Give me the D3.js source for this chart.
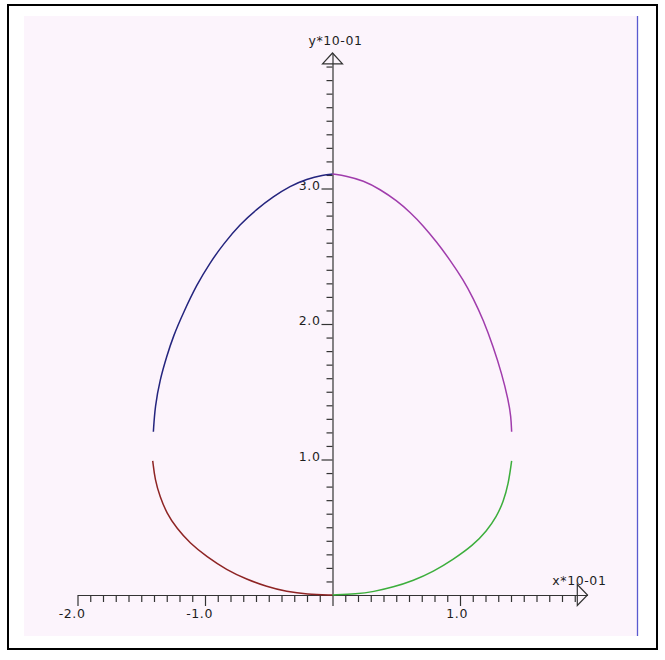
<!DOCTYPE html>
<html>
<head>
<meta charset="utf-8">
<script src="https://cdn.jsdelivr.net/npm/d3@7/dist/d3.min.js"></script>
<style>
  html, body { margin: 0; padding: 0; background: #ffffff; }
  svg { display: block; }
  text { font-family: "DejaVu Sans", sans-serif; font-size: 12.5px; letter-spacing: 0.6px; fill: #1e1e1e; }
</style>
</head>
<body>
<svg id="chart" width="665" height="660"></svg>
<script>
// Egg curve, drawn as four separate pieces (units of 10^-1)
const topLeft = [
  [-1.405, 1.205], [-1.392, 1.392], [-1.353, 1.590], [-1.300, 1.762], [-1.249, 1.910],
  [-1.170, 2.083], [-1.065, 2.290], [-0.961, 2.452], [-0.856, 2.590], [-0.725, 2.736],
  [-0.595, 2.847], [-0.464, 2.940], [-0.333, 3.018], [-0.202, 3.070], [-0.072, 3.100],
  [0.0, 3.107]
];
const topRight = [
  [0.0, 3.107], [0.111, 3.092], [0.242, 3.058], [0.373, 2.994], [0.504, 2.910],
  [0.608, 2.825], [0.712, 2.725], [0.817, 2.605], [0.922, 2.472], [1.026, 2.325],
  [1.104, 2.190], [1.183, 2.030], [1.261, 1.832], [1.327, 1.636], [1.379, 1.439],
  [1.400, 1.316], [1.405, 1.205]
];
const bottomLeft = [
  [-1.410, 0.990], [-1.392, 0.849], [-1.353, 0.725], [-1.300, 0.603], [-1.222, 0.492],
  [-1.118, 0.382], [-0.987, 0.283], [-0.830, 0.185], [-0.673, 0.116], [-0.516, 0.061],
  [-0.359, 0.024], [-0.202, 0.005], [0.0, 0.0]
];
const bottomRight = [
  [0.0, 0.0], [0.190, 0.007], [0.320, 0.024], [0.477, 0.058], [0.634, 0.106],
  [0.791, 0.172], [0.947, 0.262], [1.104, 0.368], [1.209, 0.472], [1.288, 0.580],
  [1.340, 0.690], [1.379, 0.815], [1.405, 0.990]
];

const pieces = [
  { name: "top-left", points: topLeft, color: "#24247e" },
  { name: "top-right", points: topRight, color: "#a03cac" },
  { name: "bottom-left", points: bottomLeft, color: "#8e2424" },
  { name: "bottom-right", points: bottomRight, color: "#3cae3c" }
];

// Axis ticks and labels
const xMajorTicks = [-2.0, -1.0, 1.0];
const xMajorLabels = ["-2.0", "-1.0", "1.0"];
const yMajorTicks = [1.0, 2.0, 3.0];
const yMajorLabels = ["1.0", "2.0", "3.0"];
const xDomain = [-2.0, 2.0];
const yDomain = [0.0, 4.0];
const xTickMax = 1.9;
const yTickMax = 3.9;
const arrowBase = 0.08;   // distance from arrow base to tip, in data units
const xTitle = "x*10-01";
const yTitle = "y*10-01";

const svg = d3.select("#chart");

// frame, plot background and right rule
svg.append("rect").attr("x", 8).attr("y", 5).attr("width", 649).attr("height", 644)
  .attr("fill", "#ffffff").attr("stroke", "#000").attr("stroke-width", 2);
svg.append("rect").attr("x", 24).attr("y", 16).attr("width", 613).attr("height", 620)
  .attr("fill", "#fcf4fc");
svg.append("line").attr("x1", 637.5).attr("x2", 637.5).attr("y1", 16).attr("y2", 636)
  .attr("stroke", "#5a5ad0").attr("stroke-width", 1.3);

const x = d3.scaleLinear().domain(xDomain).range([77.5, 587.5]);
const y = d3.scaleLinear().domain(yDomain).range([595, 53]);

const axisColor = "#333";
const round1 = v => Math.round(v * 10) / 10;
const xMinor = d3.range(-20, Math.round(xTickMax * 10) + 1).map(v => v / 10)
  .filter(v => v !== 0 && !xMajorTicks.includes(round1(v)));
const yMinor = d3.range(1, Math.round(yTickMax * 10) + 1).map(v => v / 10)
  .filter(v => !yMajorTicks.includes(round1(v)));

function styleAxis(g) {
  g.selectAll("path, line").attr("stroke", axisColor).attr("stroke-width", 1.2);
  g.selectAll("text").remove();
}

// x axis: line, minor and major ticks hanging below
svg.append("g").attr("transform", `translate(0,${y(0)})`)
  .call(d3.axisBottom(x).tickValues(xMinor).tickSize(7).tickSizeOuter(0).tickFormat(""))
  .call(styleAxis);
svg.append("g").attr("transform", `translate(0,${y(0)})`)
  .call(d3.axisBottom(x).tickValues([...xMajorTicks, 0]).tickSize(11).tickSizeOuter(0).tickFormat(""))
  .call(g => g.select(".domain").remove())
  .call(styleAxis);

// y axis: line with ticks on the left
svg.append("g").attr("transform", `translate(${x(0)},0)`)
  .call(d3.axisLeft(y).tickValues(yMinor).tickSize(6).tickSizeOuter(0).tickFormat(""))
  .call(styleAxis);
svg.append("g").attr("transform", `translate(${x(0)},0)`)
  .call(d3.axisLeft(y).tickValues(yMajorTicks).tickSize(11).tickSizeOuter(0).tickFormat(""))
  .call(g => g.select(".domain").remove())
  .call(styleAxis);

// open arrow heads
const xb = x(xDomain[1] - arrowBase), xt = x(xDomain[1]);
svg.append("path")
  .attr("d", `M${xb},${y(0) - 10.5}L${xt},${y(0)}L${xb},${y(0) + 10.5}Z`)
  .attr("fill", "none").attr("stroke", axisColor).attr("stroke-width", 1.2);
const yb = y(yDomain[1] - arrowBase), yt = y(yDomain[1]);
svg.append("path")
  .attr("d", `M${x(0) - 10},${yb}L${x(0)},${yt}L${x(0) + 10},${yb}Z`)
  .attr("fill", "none").attr("stroke", axisColor).attr("stroke-width", 1.2);

// tick labels
svg.selectAll("text.xl").data(xMajorTicks).join("text").attr("class", "xl")
  .attr("x", d => x(d) + 8).attr("y", y(0) + 23).attr("text-anchor", "end")
  .text((d, i) => xMajorLabels[i]);
svg.selectAll("text.yl").data(yMajorTicks).join("text").attr("class", "yl")
  .attr("x", x(0) - 12).attr("y", d => y(d) + 1).attr("text-anchor", "end")
  .text((d, i) => yMajorLabels[i]);

// axis titles
svg.append("text").attr("x", xb - 25).attr("y", y(0) - 10).text(xTitle);
svg.append("text").attr("x", x(0) + 3).attr("y", 45).attr("text-anchor", "middle").text(yTitle);

// curve pieces
const line = d3.line().x(d => x(d[0])).y(d => y(d[1])).curve(d3.curveBasis);
svg.selectAll("path.piece").data(pieces).join("path").attr("class", "piece")
  .attr("d", d => line(d.points))
  .attr("fill", "none").attr("stroke", d => d.color).attr("stroke-width", 1.5);
</script>
</body>
</html>
